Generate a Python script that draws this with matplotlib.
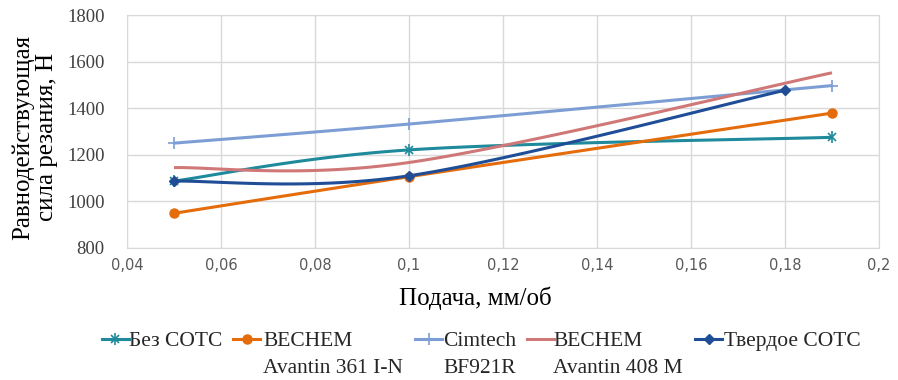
import matplotlib
matplotlib.use('Agg')
import matplotlib.pyplot as plt
import numpy as np
from matplotlib.lines import Line2D
from matplotlib.ticker import FuncFormatter

# data
feed_a = [0.05, 0.1, 0.19]
feed_b = [0.05, 0.1, 0.18]
bez_sots = [1087, 1221, 1275]
avantin_361 = [949, 1106, 1379]
cimtech = [1250, 1332, 1497]
avantin_408 = [1145, 1167, 1552]
tverdoe = [1087, 1110, 1477]

labels = ['Без СОТС', 'BECHEM\nAvantin 361 I-N', 'Cimtech\nBF921R',
          'BECHEM\nAvantin 408 M', 'Твердое СОТС']
colors = ['#1e8a9b', '#e46c0a', '#7c9ed4', '#d07878', '#1f4e96']
markers = ['star', 'o', '+', None, 'D']

xlim = (0.04, 0.2)
ylim = (800, 1800)
W, H = 898, 380

fig = plt.figure(figsize=(W/100, H/100), dpi=100)
ax = fig.add_axes([127/W, 1-248/H, 752/W, 233/H])
ax.set_xlim(*xlim)
ax.set_ylim(*ylim)

# axes size in pixels (for excel-like smoothing in screen space)
sx = 752 / (xlim[1]-xlim[0])
sy = 233 / (ylim[1]-ylim[0])


def smooth(x, y, n=40):
    # bezier smoothing like excel "smoothed line"
    p = np.column_stack([np.array(x)*sx, np.array(y)*sy])
    pts = np.vstack([p[0], p, p[-1]])
    out = []
    for i in range(1, len(pts)-2):
        p0, p1, p2, p3 = pts[i-1], pts[i], pts[i+1], pts[i+2]
        c1 = p1 + (p2-p0)/6
        c2 = p2 - (p3-p1)/6
        t = np.linspace(0, 1, n)[:, None]
        seg = (1-t)**3*p1 + 3*(1-t)**2*t*c1 + 3*(1-t)*t**2*c2 + t**3*p2
        out.append(seg if i == 1 else seg[1:])
    out = np.vstack(out)
    return out[:, 0]/sx, out[:, 1]/sy


def draw_marker(target, xs, ys, m, c, **kw):
    if m is None:
        return
    if m == 'star':
        target(xs, ys, ls='none', marker='x', color=c, ms=6, mew=1.2, **kw)
        target(xs, ys, ls='none', marker='|', color=c, ms=8, mew=1.2, **kw)
    elif m == 'o':
        target(xs, ys, ls='none', marker='o', color=c, ms=6.5, **kw)
    elif m == '+':
        target(xs, ys, ls='none', marker='+', color=c, ms=8, mew=1.2, **kw)
    elif m == 'D':
        target(xs, ys, ls='none', marker='D', color=c, ms=5, **kw)


series = [(feed_a, bez_sots), (feed_a, avantin_361), (feed_a, cimtech),
          (feed_a, avantin_408), (feed_b, tverdoe)]

for (xs, ys), c, m in zip(series, colors, markers):
    xx, yy = smooth(xs, ys)
    ax.plot(xx, yy, color=c, lw=2.2, solid_capstyle='butt', zorder=3)
    draw_marker(ax.plot, xs, ys, m, c, zorder=4)

ax.set_xticks(np.arange(0.04, 0.2001, 0.02))
ax.set_yticks(np.arange(800, 1801, 200))
ax.xaxis.set_major_formatter(FuncFormatter(lambda v, p: ('%g' % round(v, 3)).replace('.', ',')))
ax.grid(True, color='#d9d9d9', lw=1)
ax.set_axisbelow(True)
for s in ax.spines.values():
    s.set_color('#d9d9d9')
ax.tick_params(length=0)
ax.tick_params(axis='x', labelsize=10.5, labelcolor='#595959', pad=7)
for t in ax.get_yticklabels():
    t.set_fontfamily('Liberation Serif')
    t.set_fontsize(13.5)
    t.set_color('#404040')
ax.tick_params(axis='y', pad=16)

fig.text(475/W, 1-305/H, 'Подача, мм/об', fontfamily='Liberation Serif',
         fontsize=18, ha='center', va='baseline', color='black')
fig.text(35/W, 1-137/H, 'Равнодействующая\nсила резания, Н', fontfamily='Liberation Serif',
         fontsize=18, ha='center', va='center', rotation=90, linespacing=1.1,
         multialignment='center', color='black')

# legend drawn by hand so the marker sits on the first text line
line_x = [102, 233, 415, 527, 695]
text_x = [129, 263, 443, 553, 724]
line_y = 339
base1, base2 = 346, 373
for lx, tx, lab, c, m in zip(line_x, text_x, labels, colors, markers):
    fy = 1 - line_y/H
    fig.add_artist(Line2D([lx/W, (lx+27)/W], [fy, fy], color=c, lw=2.2))
    draw_marker(lambda *a, **k: fig.add_artist(Line2D(*a, **k)),
                [(lx+13.5)/W], [fy], m, c)
    parts = lab.split('\n')
    for j, part in enumerate(parts):
        by = base1 if j == 0 else base2
        fig.text(tx/W, 1-by/H, part, fontfamily='Liberation Serif', fontsize=15.5,
                 va='baseline', ha='left', color='#262626')

fig.savefig('out.png', dpi=100)
